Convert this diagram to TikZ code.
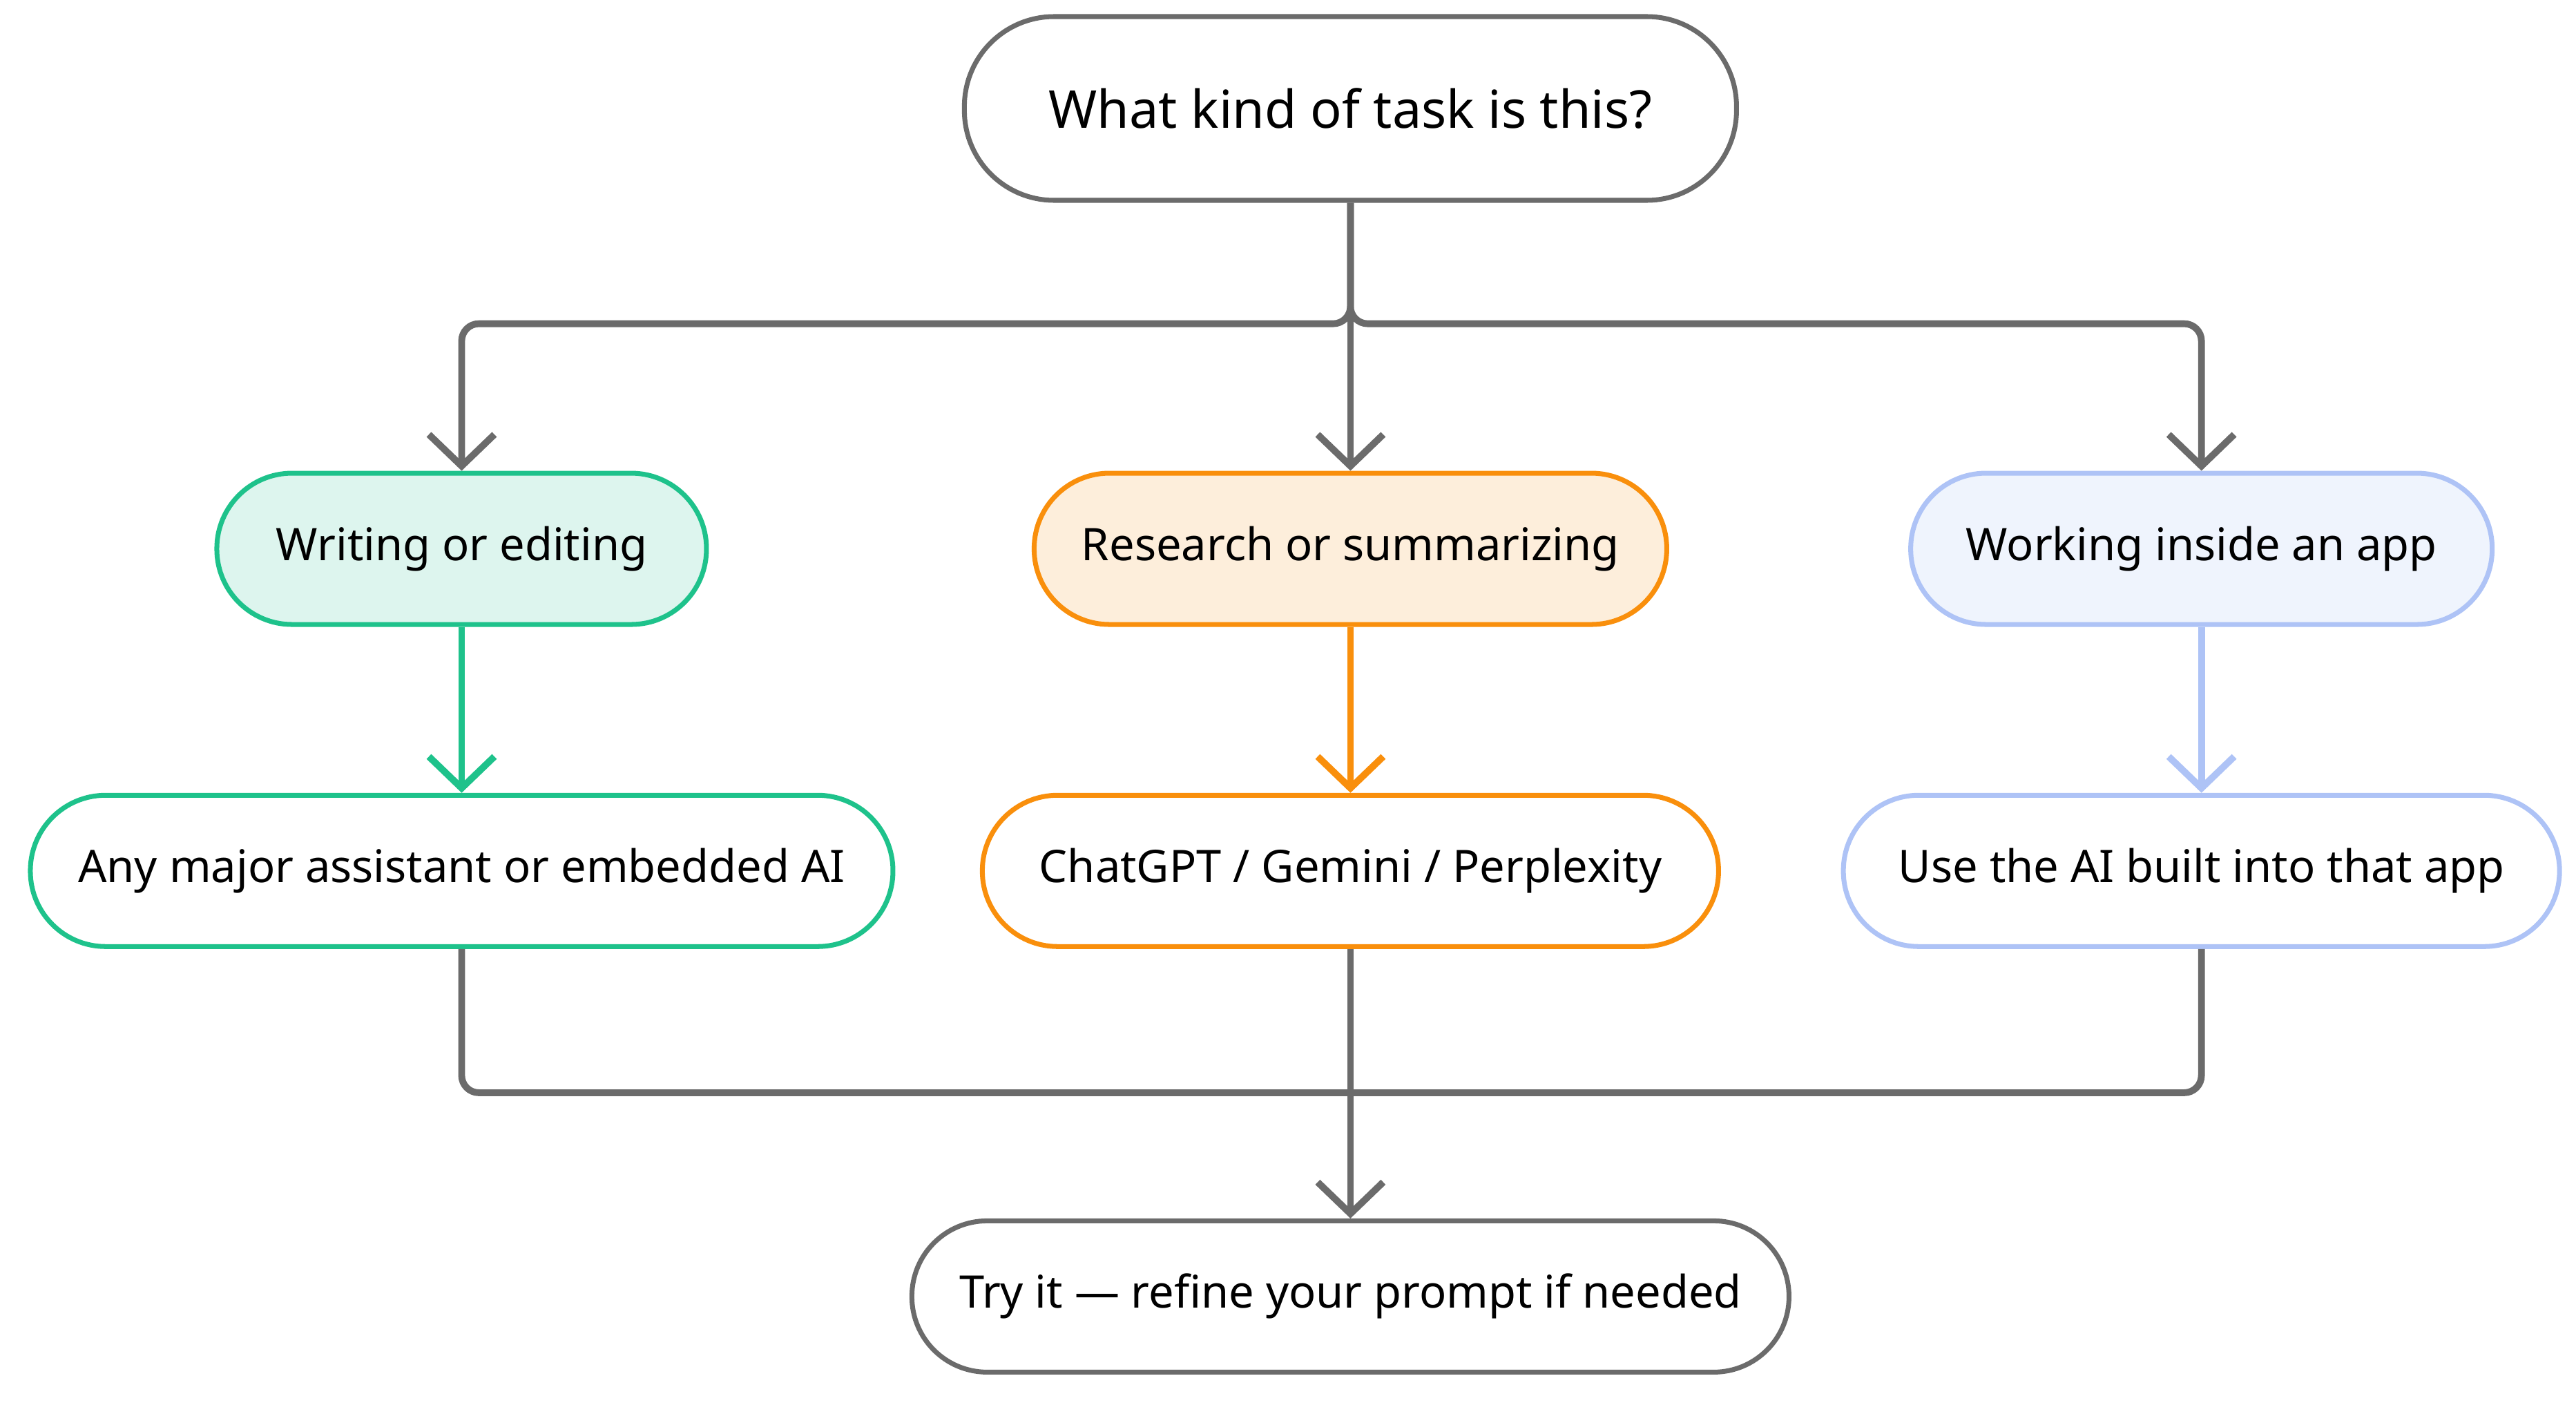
\documentclass[tikz,border=0pt]{standalone}
\usepackage{fontspec}
\setmainfont{Noto Sans}
\usetikzlibrary{arrows.meta}
\definecolor{linegray}{HTML}{6B6B6B}
\definecolor{greenline}{HTML}{1EC28B}
\definecolor{greenfill}{HTML}{DDF5EE}
\definecolor{orangeline}{HTML}{F98F0C}
\definecolor{orangefill}{HTML}{FDEEDB}
\definecolor{blueline}{HTML}{AEC3F6}
\definecolor{bluefill}{HTML}{EFF4FD}

\begin{document}
\begin{tikzpicture}
    [x=0.02379cm,y=-0.02379cm,
     box/.style={draw,rounded corners=0.55cm,line width=2pt,minimum height=2.19cm,
        font=\fontsize{18.5}{22}\selectfont,inner sep=0pt},
     flow/.style={draw=linegray,line width=2.8pt,rounded corners=0.25cm,
        -{Straight Barb[length=13pt,width=27pt,line width=2.8pt]}},
     merge/.style={draw=linegray,line width=2.8pt,rounded corners=0.25cm}]
\useasboundingbox (0,0) rectangle (1568,855);
\path
    (822,66) node [box,draw=linegray,fill=white,minimum width=11.18cm,minimum height=2.66cm,
        rounded corners=1.3cm,font=\fontsize{21.5}{26}\selectfont] (task) {What kind of task is this?}
    (281,334) node [box,draw=greenline,fill=greenfill,minimum width=7.09cm,rounded corners=1.09cm] (writing) {Writing or editing}
    (822,334) node [box,draw=orangeline,fill=orangefill,minimum width=9.16cm,rounded corners=1.09cm] (research) {Research or summarizing}
    (1340,334) node [box,draw=blueline,fill=bluefill,minimum width=8.42cm,rounded corners=1.09cm] (app) {Working inside an app}
    (281,530) node [box,draw=greenline,fill=white,minimum width=12.49cm,rounded corners=1.09cm] (any) {Any major assistant or embedded AI}
    (822,530) node [box,draw=orangeline,fill=white,minimum width=10.66cm,rounded corners=1.09cm] (chat) {ChatGPT / Gemini / Perplexity}
    (1340,530) node [box,draw=blueline,fill=white,minimum width=10.37cm,rounded corners=1.09cm] (builtin) {Use the AI built into that app}
    (822,789) node [box,draw=linegray,fill=white,minimum width=12.7cm,rounded corners=1.09cm] (try) {Try it — refine your prompt if needed};
% branch out
\draw [flow] (task.south) -- (task.south |- 0,197) -- (writing.north |- 0,197) -- (writing.north);
\draw [flow] (task.south) -- (research.north);
\draw [flow] (task.south) -- (task.south |- 0,197) -- (app.north |- 0,197) -- (app.north);
% per task
\draw [flow,draw=greenline,-{Straight Barb[length=13pt,width=27pt,line width=2.8pt,color=greenline]}] (writing) -- (any);
\draw [flow,draw=orangeline,-{Straight Barb[length=13pt,width=27pt,line width=2.8pt,color=orangeline]}] (research) -- (chat);
\draw [flow,draw=blueline,-{Straight Barb[length=13pt,width=27pt,line width=2.8pt,color=blueline]}] (app) -- (builtin);
% merge
\draw [merge] (any.south) -- (any.south |- 0,665) -- (builtin.south |- 0,665) -- (builtin.south);
\draw [flow] (chat.south) -- (try.north);
\end{tikzpicture}
\end{document}
